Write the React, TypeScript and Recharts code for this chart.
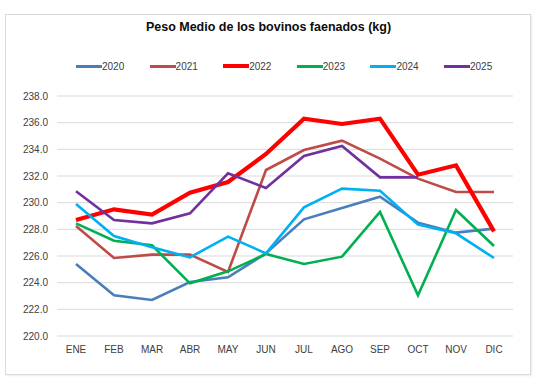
import React from "react";
import { LineChart, Line, XAxis, YAxis, CartesianGrid, Legend } from "recharts";

const months = ["ENE", "FEB", "MAR", "ABR", "MAY", "JUN", "JUL", "AGO", "SEP", "OCT", "NOV", "DIC"];
const y2020 = [225.4, 223.05, 222.7, 224.05, 224.4, 226.2, 228.75, 229.6, 230.45, 228.5, 227.75, 228.05];
const y2021 = [228.25, 225.85, 226.1, 226.1, 224.8, 232.45, 233.95, 234.65, 233.3, 231.8, 230.8, 230.8];
const y2022 = [228.7, 229.5, 229.1, 230.75, 231.55, 233.65, 236.3, 235.9, 236.3, 232.1, 232.8, 227.85];
const y2023 = [228.45, 227.15, 226.8, 223.95, 224.85, 226.15, 225.4, 225.95, 229.3, 223.05, 229.45, 226.75];
const y2024 = [229.9, 227.5, 226.65, 225.9, 227.45, 226.2, 229.65, 231.05, 230.9, 228.35, 227.7, 225.85];
const y2025: (number | null)[] = [230.85, 228.7, 228.45, 229.2, 232.2, 231.1, 233.5, 234.25, 231.9, 231.9, null, null];
const yTicks = [220, 222, 224, 226, 228, 230, 232, 234, 236, 238];

const series = [
  { key: "2020", values: y2020, color: "#4A7EBB", width: 2.6 },
  { key: "2021", values: y2021, color: "#BE4B48", width: 2.6 },
  { key: "2022", values: y2022, color: "#FF0000", width: 4.2 },
  { key: "2023", values: y2023, color: "#00B050", width: 2.6 },
  { key: "2024", values: y2024, color: "#00B0F0", width: 2.6 },
  { key: "2025", values: y2025, color: "#7030A0", width: 2.6 },
];

const data = months.map((m, i) => {
  const row: Record<string, any> = { month: m };
  series.forEach((s) => {
    row[s.key] = s.values[i];
  });
  return row;
});

const FONT = "'Liberation Sans', Arial, sans-serif";

const LegendContent = () => (
  <div style={{ position: "relative", height: 14, fontFamily: FONT, fontSize: 10, color: "#404040" }}>
    {series.map((s, i) => (
      <div
        key={s.key}
        style={{ position: "absolute", left: 76 + i * 73.6, top: 0, display: "flex", alignItems: "center", height: 14 }}
      >
        <div style={{ width: 26, height: s.width + 0.4, background: s.color }} />
        <span style={{ marginLeft: 0 }}>{s.key}</span>
      </div>
    ))}
  </div>
);

export default function App() {
  return (
    <div style={{ position: "absolute", left: 0, top: 0, width: 540, height: 384, background: "#fff" }}>
      <div
        style={{
          position: "absolute",
          left: 5,
          top: 14,
          width: 524,
          height: 359,
          border: "1px solid #d9d9d9",
          boxShadow: "1px 1px 2px rgba(0,0,0,0.08)",
        }}
      />
      <div
        style={{
          position: "absolute",
          left: 0,
          width: 537,
          top: 20,
          textAlign: "center",
          fontFamily: FONT,
          fontWeight: "bold",
          fontSize: 12.5,
          color: "#0d0d0d",
        }}
      >
        Peso Medio de los bovinos faenados (kg)
      </div>
      <div style={{ position: "absolute", left: 0, top: 0 }}>
        <LineChart width={540} height={384} data={data} margin={{ top: 82, right: 27, bottom: 18, left: 7 }}>
          <CartesianGrid vertical={false} stroke="#d9d9d9" strokeWidth={1} />
          <XAxis
            dataKey="month"
            axisLine={false}
            tickLine={false}
            height={30}
            padding={{ left: 19, right: 19 }}
            tick={{ fontSize: 10, fill: "#404040", fontFamily: FONT }}
            tickMargin={4}
            interval={0}
          />
          <YAxis
            domain={[220, 238]}
            ticks={yTicks}
            axisLine={false}
            tickLine={false}
            width={50}
            tickSize={6}
            tickMargin={3}
            tickFormatter={(v: number) => v.toFixed(1)}
            tick={{ fontSize: 10, fill: "#404040", fontFamily: FONT }}
            allowDataOverflow
          />
          <Legend verticalAlign="top" wrapperStyle={{ top: 59, left: 0, width: 540 }} content={<LegendContent />} />
          {series.map((s) => (
            <Line
              key={s.key}
              type="linear"
              dataKey={s.key}
              stroke={s.color}
              strokeWidth={s.width}
              dot={false}
              activeDot={false}
              isAnimationActive={false}
              connectNulls={false}
              strokeLinejoin="miter"
            />
          ))}
        </LineChart>
      </div>
    </div>
  );
}
